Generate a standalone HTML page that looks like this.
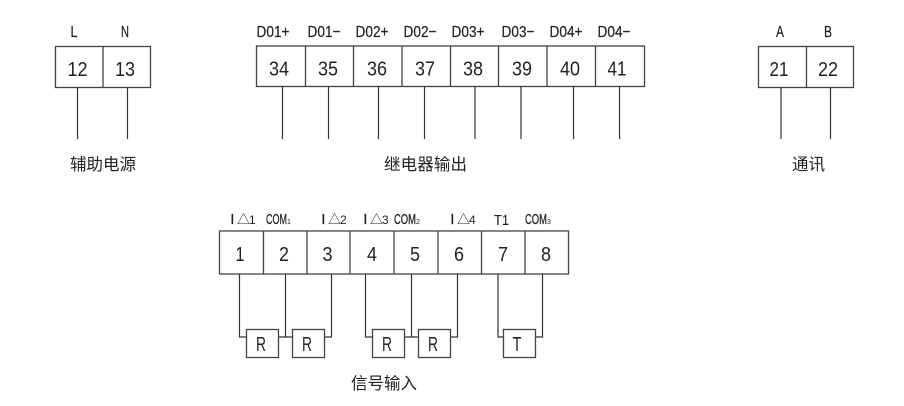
<!DOCTYPE html>
<html>
<head>
<meta charset="utf-8">
<style>
html,body{margin:0;padding:0;background:#fff;width:904px;height:406px;overflow:hidden}
svg{display:block}
text{fill:#222;font-family:"Liberation Sans","Noto Sans CJK SC",sans-serif}
.n{font-size:20px;text-anchor:middle}
.l{font-size:16px;text-anchor:middle;stroke:#222;stroke-width:.2}
.c{font-size:16.5px;font-family:"Noto Sans CJK SC",sans-serif;fill:#222}
.s{font-size:12px}
.k{font-size:15px;stroke:#222;stroke-width:.3}
.t{font-size:13px}
.b{fill:none;stroke:#444;stroke-width:1.3}
.w{fill:none;stroke:#333;stroke-width:1.2}
</style>
</head>
<body>
<svg width="904" height="406" viewBox="0 0 904 406" xmlns="http://www.w3.org/2000/svg">
<!-- Group 1 -->
<rect class="b" x="55.5" y="46.5" width="95" height="41"/>
<path class="b" d="M103 46.5V87.5"/>
<path class="w" d="M77.5 87.5V139M127.5 87.5V139"/>
<text class="l" x="74" y="37" textLength="7" lengthAdjust="spacingAndGlyphs">L</text>
<text class="l" x="125" y="37" textLength="8" lengthAdjust="spacingAndGlyphs">N</text>
<text class="n" x="77.5" y="76" textLength="20" lengthAdjust="spacingAndGlyphs">12</text>
<text class="n" x="125" y="76" textLength="20" lengthAdjust="spacingAndGlyphs">13</text>
<text class="c" x="70" y="170" textLength="66">辅助电源</text>

<!-- Group 2 -->
<rect class="b" x="256.5" y="46" width="388" height="40.5"/>
<path class="b" d="M305.5 46V86.5M353.5 46V86.5M402 46V86.5M450.5 46V86.5M498.5 46V86.5M547 46V86.5M595.5 46V86.5"/>
<path class="w" d="M282.5 86.5V139M328.5 86.5V139M378.5 86.5V139M424.5 86.5V139M475 86.5V139M521 86.5V139M573.5 86.5V139M619.5 86.5V139"/>
<g>
<text class="l" x="273" y="37" textLength="33" lengthAdjust="spacingAndGlyphs">D01+</text>
<text class="l" x="324" y="37" textLength="33" lengthAdjust="spacingAndGlyphs">D01−</text>
<text class="l" x="372" y="37" textLength="33" lengthAdjust="spacingAndGlyphs">D02+</text>
<text class="l" x="420" y="37" textLength="33" lengthAdjust="spacingAndGlyphs">D02−</text>
<text class="l" x="468" y="37" textLength="33" lengthAdjust="spacingAndGlyphs">D03+</text>
<text class="l" x="518" y="37" textLength="33" lengthAdjust="spacingAndGlyphs">D03−</text>
<text class="l" x="566" y="37" textLength="33" lengthAdjust="spacingAndGlyphs">D04+</text>
<text class="l" x="614" y="37" textLength="33" lengthAdjust="spacingAndGlyphs">D04−</text>
</g>
<g>
<text class="n" x="279" y="75.5" textLength="20" lengthAdjust="spacingAndGlyphs">34</text>
<text class="n" x="328" y="75.5" textLength="20" lengthAdjust="spacingAndGlyphs">35</text>
<text class="n" x="377" y="75.5" textLength="20" lengthAdjust="spacingAndGlyphs">36</text>
<text class="n" x="425" y="75.5" textLength="20" lengthAdjust="spacingAndGlyphs">37</text>
<text class="n" x="473" y="75.5" textLength="20" lengthAdjust="spacingAndGlyphs">38</text>
<text class="n" x="522" y="75.5" textLength="20" lengthAdjust="spacingAndGlyphs">39</text>
<text class="n" x="570" y="75.5" textLength="20" lengthAdjust="spacingAndGlyphs">40</text>
<text class="n" x="617" y="75.5" textLength="19" lengthAdjust="spacingAndGlyphs">41</text>
</g>
<text class="c" x="384" y="170" textLength="83">继电器输出</text>

<!-- Group 3 -->
<rect class="b" x="758.5" y="46.5" width="95" height="41"/>
<path class="b" d="M806.5 46.5V87.5"/>
<path class="w" d="M781 87.5V139M830.5 87.5V139"/>
<text class="l" x="780" y="37" textLength="8" lengthAdjust="spacingAndGlyphs">A</text>
<text class="l" x="828" y="37" textLength="8" lengthAdjust="spacingAndGlyphs">B</text>
<text class="n" x="779" y="76" textLength="19" lengthAdjust="spacingAndGlyphs">21</text>
<text class="n" x="828" y="76" textLength="20" lengthAdjust="spacingAndGlyphs">22</text>
<text class="c" x="792" y="170" textLength="33">通讯</text>

<!-- Group 4 -->
<rect class="b" x="219.5" y="231" width="349" height="43"/>
<path class="b" d="M263.5 231V274M307 231V274M350 231V274M394 231V274M438 231V274M481.5 231V274M525 231V274"/>
<path class="w" d="M239.5 274V337H246.5M285.5 274V337M278.5 337H292.5M331.5 274V337H324.5M365.5 274V337H372.5M411.5 274V337M404.5 337H418.5M457.5 274V337H450.5M498 274V337H503.5M542.5 274V337H535"/>
<rect class="b" x="246.5" y="329.5" width="32" height="28"/>
<rect class="b" x="292.5" y="329.5" width="32" height="28"/>
<rect class="b" x="372.5" y="329.5" width="32" height="28"/>
<rect class="b" x="418.5" y="329.5" width="32" height="28"/>
<rect class="b" x="503.5" y="329.5" width="32" height="28"/>
<g>
<text class="n" x="240" y="261" textLength="9" lengthAdjust="spacingAndGlyphs">1</text>
<text class="n" x="284" y="261" textLength="10" lengthAdjust="spacingAndGlyphs">2</text>
<text class="n" x="327.5" y="261" textLength="10" lengthAdjust="spacingAndGlyphs">3</text>
<text class="n" x="372" y="261" textLength="10" lengthAdjust="spacingAndGlyphs">4</text>
<text class="n" x="415" y="261" textLength="10" lengthAdjust="spacingAndGlyphs">5</text>
<text class="n" x="459" y="261" textLength="10" lengthAdjust="spacingAndGlyphs">6</text>
<text class="n" x="503" y="261" textLength="10" lengthAdjust="spacingAndGlyphs">7</text>
<text class="n" x="546" y="261" textLength="10" lengthAdjust="spacingAndGlyphs">8</text>
</g>
<g>
<text class="n" x="261" y="351" textLength="10" lengthAdjust="spacingAndGlyphs">R</text>
<text class="n" x="307" y="351" textLength="10" lengthAdjust="spacingAndGlyphs">R</text>
<text class="n" x="387" y="351" textLength="10" lengthAdjust="spacingAndGlyphs">R</text>
<text class="n" x="433" y="351" textLength="10" lengthAdjust="spacingAndGlyphs">R</text>
<text class="n" x="517" y="351" textLength="9" lengthAdjust="spacingAndGlyphs">T</text>
</g>
<!-- Row 4 labels -->
<g>
<text class="k" x="230.2" y="224">I</text><text class="t" x="237" y="224">△</text><text class="s" x="249" y="224">1</text>
<text class="k" x="321.2" y="224">I</text><text class="t" x="328" y="224">△</text><text class="s" x="340" y="224">2</text>
<text class="k" x="363.2" y="224">I</text><text class="t" x="370" y="224">△</text><text class="s" x="382" y="224">3</text>
<text class="k" x="450.2" y="224">I</text><text class="t" x="457" y="224">△</text><text class="s" x="469" y="224">4</text>
<text class="k" x="266" y="224" textLength="21" lengthAdjust="spacingAndGlyphs">COM</text><text x="287" y="224" style="font-size:7px">1</text>
<text class="k" x="394" y="224" textLength="22" lengthAdjust="spacingAndGlyphs">COM</text><text x="416" y="224" style="font-size:7px">2</text>
<text class="k" x="525" y="224" textLength="22" lengthAdjust="spacingAndGlyphs">COM</text><text x="547" y="224" style="font-size:7px">3</text>
<text class="k" x="494" y="225" textLength="15" lengthAdjust="spacingAndGlyphs" style="stroke-width:.1">T1</text>
</g>
<text class="c" x="351" y="389" textLength="66">信号输入</text>
</svg>
</body>
</html>
